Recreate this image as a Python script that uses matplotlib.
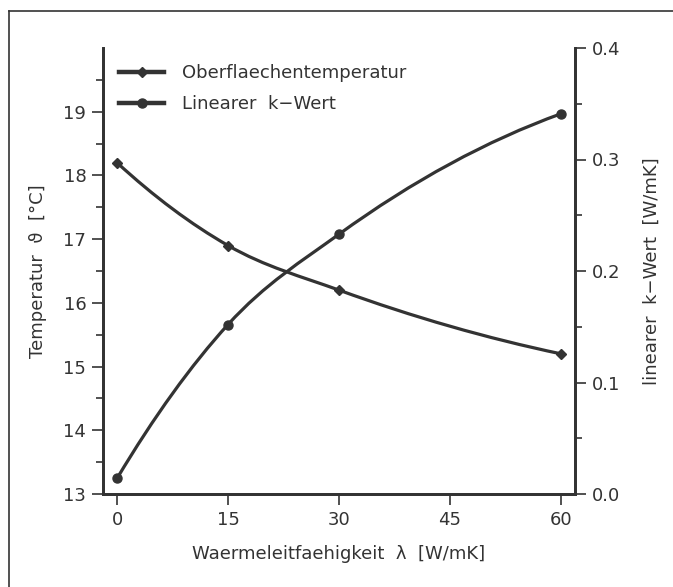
import numpy as np
import matplotlib
matplotlib.use("Agg")
import matplotlib.pyplot as plt
from matplotlib.path import Path
from matplotlib.patches import PathPatch
from matplotlib.lines import Line2D

# data
lam = [0, 15, 30, 60]
temp = [18.2, 16.9, 16.2, 15.2]        # Oberflaechentemperatur [°C]
kwert = [0.014, 0.152, 0.233, 0.341]   # linearer k-Wert [W/mK]

xticks = [0, 15, 30, 45, 60]
yticks_left = [13, 14, 15, 16, 17, 18, 19]
yticks_right = [0.0, 0.1, 0.2, 0.3, 0.4]

INK = "#333333"
plt.rcParams["font.family"] = ["DejaVu Sans"]
plt.rcParams["text.color"] = INK
plt.rcParams["axes.labelcolor"] = INK
plt.rcParams["xtick.color"] = INK
plt.rcParams["ytick.color"] = INK


def smooth_path(x, y):
    # cubic hermite through the data points, written as bezier segments
    x = np.asarray(x, float)
    y = np.asarray(y, float)
    h = np.diff(x)
    s = np.diff(y) / h
    m = np.zeros_like(y)
    for i in range(1, len(x) - 1):
        m[i] = (h[i] * s[i - 1] + h[i - 1] * s[i]) / (h[i - 1] + h[i])
    m[0] = ((2 * h[0] + h[1]) * s[0] - h[0] * s[1]) / (h[0] + h[1])
    m[-1] = ((2 * h[-1] + h[-2]) * s[-1] - h[-1] * s[-2]) / (h[-1] + h[-2])
    verts = [(x[0], y[0])]
    codes = [Path.MOVETO]
    for i in range(len(h)):
        verts += [(x[i] + h[i] / 3, y[i] + m[i] * h[i] / 3),
                  (x[i + 1] - h[i] / 3, y[i + 1] - m[i + 1] * h[i] / 3),
                  (x[i + 1], y[i + 1])]
        codes += [Path.CURVE4] * 3
    return Path(verts, codes)


fig = plt.figure(figsize=(6.73, 5.87), dpi=100)
ax = fig.add_axes([103 / 673, 1 - 494 / 587, 472 / 673, 446 / 587])
ax2 = ax.twinx()

ax.set_xlim(-1.9, 61.9)
ax.set_ylim(13, 20)
ax2.set_ylim(0, 0.4)

lw = 2.3
ax.add_patch(PathPatch(smooth_path(lam, temp), fill=False, lw=lw, ec=INK,
                       capstyle="round"))
ax.plot(lam, temp, ls="none", marker="D", ms=5, color=INK)
ax2.add_patch(PathPatch(smooth_path(lam, kwert), fill=False, lw=lw, ec=INK,
                        transform=ax2.transData, capstyle="round"))
ax2.plot(lam, kwert, ls="none", marker="o", ms=6.5, color=INK)

for a in (ax, ax2):
    a.spines["top"].set_visible(False)
    for sp in a.spines.values():
        sp.set_linewidth(2.0)
        sp.set_color(INK)

ax.set_xticks(xticks)
ax.set_yticks(yticks_left)
ax.set_yticks(np.arange(13.5, 20, 1.0), minor=True)
ax.set_yticklabels([str(v) for v in yticks_left])
ax2.set_yticks(yticks_right)
ax2.set_yticks(np.arange(0.05, 0.4, 0.1), minor=True)
ax2.set_yticklabels([f"{v:.1f}" for v in yticks_right])

ax.tick_params(axis="both", which="major", length=8, width=1.2,
               labelsize=13, pad=4)
ax.tick_params(axis="y", which="minor", length=5, width=1.2)
ax2.tick_params(axis="y", which="major", length=8, width=1.2,
                labelsize=13, pad=4)
ax2.tick_params(axis="y", which="minor", length=5, width=1.2)

ax.set_xlabel("Waermeleitfaehigkeit  λ  [W/mK]", fontsize=13, labelpad=12)
ax.set_ylabel("Temperatur  ϑ  [°C]", fontsize=13, labelpad=12)
ax2.set_ylabel("linearer  k−Wert  [W/mK]", fontsize=13, labelpad=16)

handles = [
    Line2D([], [], color=INK, lw=3.2, marker="D", ms=5),
    Line2D([], [], color=INK, lw=3.2, marker="o", ms=6.5),
]
ax.legend(handles, ["Oberflaechentemperatur", "Linearer  k−Wert"],
          loc="upper left", bbox_to_anchor=(0.0, 1.0), frameon=False,
          fontsize=13, handlelength=2.5, handletextpad=1.0, labelspacing=0.7)

# outer frame of the scanned figure
fig.add_artist(Line2D([9 / 673, 9 / 673], [0, 1 - 11 / 587],
                      transform=fig.transFigure, color=INK, lw=1.2))
fig.add_artist(Line2D([9 / 673, 1], [1 - 11 / 587, 1 - 11 / 587],
                      transform=fig.transFigure, color=INK, lw=1.2))

fig.savefig("out.png", dpi=100)
